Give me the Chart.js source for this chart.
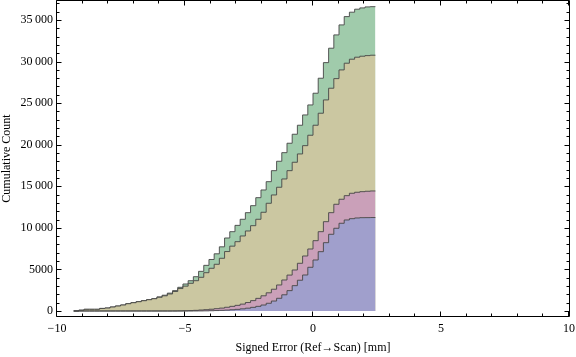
<!DOCTYPE html>
<html>
<head>
<meta charset="utf-8">
<script src="https://cdn.jsdelivr.net/npm/chart.js@4.4.1/dist/chart.umd.min.js"></script>
<style>
  html, body { margin: 0; padding: 0; background: #ffffff; }
  #wrap { width: 576px; height: 357px; }
</style>
</head>
<body>
<div id="wrap"><canvas id="c" width="576" height="357"></canvas></div>
<script>
// Bin edges (mm), 58 bins
const binEdges = [
  -9.347, -9.144, -8.941, -8.738, -8.534, -8.331, -8.128, -7.925, -7.722, -7.518,
  -7.315, -7.112, -6.909, -6.706, -6.502, -6.299, -6.096, -5.893, -5.690, -5.486,
  -5.283, -5.080, -4.877, -4.674, -4.470, -4.267, -4.064, -3.861, -3.658, -3.454,
  -3.251, -3.048, -2.845, -2.642, -2.438, -2.235, -2.032, -1.829, -1.626, -1.422,
  -1.219, -1.016, -0.813, -0.610, -0.406, -0.203, 0.000, 0.203, 0.406, 0.610,
  0.813, 1.016, 1.219, 1.422, 1.626, 1.829, 2.032, 2.235, 2.438
];

// Cumulative counts per bin
const cumGreen = [
  10, 100, 205, 205, 205, 310, 360, 481, 600, 722, 878, 1000, 1120, 1240, 1360, 1480,
  1700, 1900, 2150, 2450, 2850, 3250, 3645, 4126, 4770, 5490, 6195, 6880, 7720, 8780,
  9540, 10300, 11031, 11826, 12668, 13630, 14556, 15555, 16878, 18009, 19043, 20174,
  21257, 22340, 23579, 24782,
  26189, 27994, 29870, 31603, 33203, 34406, 35404, 35934, 36295, 36451, 36571, 36600
];
const cumTan = [
  10, 100, 205, 205, 205, 310, 360, 481, 600, 722, 878, 1000, 1120, 1240, 1360, 1480,
  1650, 1830, 2050, 2350, 2700, 2990, 3332, 3645, 4054, 4608, 5137, 5618, 6340, 7150,
  7800, 8337, 9023, 9624, 10262, 11031, 11874, 12956, 13955, 14881, 15880, 16878,
  17888, 18887, 19885, 21137,
  22340, 23784, 25383, 26791, 27946, 28992, 29798, 30279, 30520, 30640, 30712, 30760
];
const cumPink = [
  0, 0, 0, 0, 0, 0, 0, 0, 0, 0, 0, 0, 0, 0, 0, 0, 0, 0, 0,
  5, 15, 30, 50, 80, 120, 160, 215, 280, 350, 450, 560, 680, 830, 1020, 1250, 1520,
  1830, 2190, 2620, 3130, 3730, 4320, 4932, 5738, 6617, 7459,
  8457, 9540, 10743, 11826, 12836, 13438, 13870, 14159, 14280, 14352, 14400, 14436
];
const cumBlue = [
  0, 0, 0, 0, 0, 0, 0, 0, 0, 0, 0, 0, 0, 0, 0, 0, 0, 0, 0, 0, 0, 0, 0,
  5, 10, 20, 35, 55, 80, 110, 150, 200, 260, 340, 440, 560, 720, 930, 1200, 1530,
  1950, 2450, 3050, 3700, 4331, 5257,
  6135, 7134, 8217, 9227, 9949, 10550, 10947, 11104, 11188, 11224, 11230, 11240
];

const xTickValues = [-10, -5, 0, 5, 10];
const yTickValues = [0, 5000, 10000, 15000, 20000, 25000, 30000, 35000];
const xMinorTicks = [-10, -9, -8, -7, -6, -5, -4, -3, -2, -1, 0, 1, 2, 3, 4, 5, 6, 7, 8, 9, 10];
const yMinorTicks = [0, 1000, 2000, 3000, 4000, 5000, 6000, 7000, 8000, 9000, 10000,
  11000, 12000, 13000, 14000, 15000, 16000, 17000, 18000, 19000, 20000, 21000, 22000,
  23000, 24000, 25000, 26000, 27000, 28000, 29000, 30000, 31000, 32000, 33000, 34000,
  35000, 36000, 37000];

function toSteps(vals) {
  const pts = vals.map((v, i) => ({ x: binEdges[i], y: v }));
  pts.push({ x: binEdges[vals.length], y: vals[vals.length - 1] });
  return pts;
}

const edgeColor = 'rgba(70,70,70,0.9)';
function ds(label, vals, fillColor) {
  return {
    label: label,
    data: toSteps(vals),
    stepped: true,
    fill: 'origin',
    backgroundColor: fillColor,
    borderColor: edgeColor,
    borderWidth: 1,
    pointRadius: 0,
    pointHoverRadius: 0,
    tension: 0
  };
}

const serif = 'Liberation Serif, Times New Roman, serif';

const framePlugin = {
  id: 'frame',
  afterDraw(chart) {
    const { ctx, chartArea: a, scales } = chart;
    const xs = scales.x, ys = scales.y;
    ctx.save();
    ctx.strokeStyle = '#000';
    ctx.lineWidth = 1;
    const L = a.left - 0.5, R = a.right + 0.5, T = a.top + 0.5, B = a.bottom - 0.5;
    ctx.beginPath();
    ctx.moveTo(L, T); ctx.lineTo(R, T); ctx.lineTo(R, B); ctx.lineTo(L, B); ctx.closePath();
    ctx.stroke();
    ctx.beginPath();
    xMinorTicks.forEach(v => {
      const len = xTickValues.includes(v) ? 5 : 3;
      const px = Math.round(xs.getPixelForValue(v)) - 0.5;
      ctx.moveTo(px, B); ctx.lineTo(px, B - len);
      ctx.moveTo(px, T); ctx.lineTo(px, T + len);
    });
    yMinorTicks.forEach(v => {
      const len = yTickValues.includes(v) ? 5 : 3;
      const py = Math.round(ys.getPixelForValue(v)) + 0.5;
      ctx.moveTo(L, py); ctx.lineTo(L + len, py);
      ctx.moveTo(R, py); ctx.lineTo(R - len, py);
    });
    ctx.stroke();
    ctx.restore();
  }
};

new Chart(document.getElementById('c'), {
  type: 'line',
  data: {
    datasets: [
      ds('blue', cumBlue, 'rgb(160,159,204)'),
      ds('pink', cumPink, 'rgb(202,160,185)'),
      ds('tan', cumTan, 'rgb(203,199,161)'),
      ds('green', cumGreen, 'rgb(160,203,171)')
    ]
  },
  options: {
    responsive: false,
    animation: false,
    devicePixelRatio: 1,
    layout: { padding: { top: 0, right: 7, left: 0, bottom: 0 } },
    plugins: { legend: { display: false }, tooltip: { enabled: false } },
    scales: {
      x: {
        type: 'linear',
        min: -10, max: 10,
        afterBuildTicks: s => { s.ticks = xTickValues.map(v => ({ value: v })); },
        afterFit: s => { s.height = 40; s.paddingLeft = 0; s.paddingRight = 0; },
        grid: { display: false, drawTicks: false },
        border: { display: false },
        ticks: {
          autoSkip: false, maxRotation: 0, padding: 5, color: '#000',
          font: { family: serif, size: 12 },
          callback: v => (v < 0 ? '\u2212' + Math.abs(v) : String(v))
        },
        title: {
          display: true, text: 'Signed Error (Ref\u2192Scan) [mm]', color: '#000',
          font: { family: serif, size: 12 }, padding: { top: 0, bottom: 2 }
        }
      },
      y: {
        type: 'linear',
        min: -720, max: 37400,
        afterBuildTicks: s => { s.ticks = yTickValues.map(v => ({ value: v })); },
        afterFit: s => { s.width = 57; s.paddingTop = 0; s.paddingBottom = 0; },
        grid: { display: false, drawTicks: false },
        border: { display: false },
        ticks: {
          autoSkip: false, padding: 4, color: '#000',
          font: { family: serif, size: 12 },
          callback: v => (v >= 10000 ? String(v).replace(/(\d{3})$/, '\u2009$1') : String(v))
        },
        title: {
          display: true, text: 'Cumulative Count', color: '#000',
          font: { family: serif, size: 12 }, padding: { top: 0, bottom: 0 }
        }
      }
    }
  },
  plugins: [framePlugin]
});
</script>
</body>
</html>
